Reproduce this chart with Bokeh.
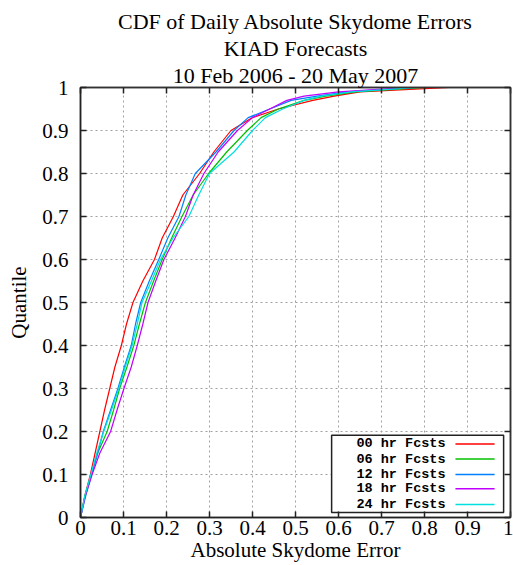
from bokeh.plotting import figure
from bokeh.models import FixedTicker, LinearAxis, Range1d, Title
from bokeh.core.properties import value
from bokeh.embed import file_html
from bokeh.resources import INLINE

quantiles = [0, 0.05, 0.1, 0.15, 0.2, 0.25, 0.3, 0.35, 0.4, 0.45, 0.5, 0.55, 0.6,
             0.65, 0.7, 0.75, 0.8, 0.85, 0.9, 0.93, 0.95, 0.97, 0.98, 0.99, 1.0]

err_00 = [0, 0.010, 0.023, 0.034, 0.045, 0.056, 0.068, 0.080, 0.095, 0.107, 0.122, 0.145, 0.172,
          0.190, 0.216, 0.238, 0.277, 0.310, 0.350, 0.400, 0.460, 0.540, 0.590, 0.650, 0.858]
err_06 = [0, 0.010, 0.025, 0.040, 0.062, 0.077, 0.091, 0.108, 0.124, 0.137, 0.151, 0.170, 0.190,
          0.212, 0.236, 0.262, 0.298, 0.340, 0.388, 0.420, 0.460, 0.520, 0.570, 0.640, 0.800]
err_12 = [0, 0.012, 0.026, 0.040, 0.053, 0.070, 0.087, 0.102, 0.118, 0.128, 0.140, 0.160, 0.182,
          0.203, 0.229, 0.245, 0.267, 0.315, 0.357, 0.390, 0.440, 0.490, 0.550, 0.620, 0.780]
err_18 = [0, 0.011, 0.027, 0.045, 0.070, 0.085, 0.101, 0.118, 0.132, 0.145, 0.157, 0.175, 0.194,
          0.220, 0.244, 0.262, 0.287, 0.320, 0.365, 0.400, 0.440, 0.480, 0.520, 0.600, 0.760]
err_24 = [0, 0.010, 0.024, 0.038, 0.054, 0.072, 0.089, 0.104, 0.120, 0.132, 0.143, 0.165, 0.186,
          0.215, 0.252, 0.275, 0.300, 0.357, 0.400, 0.430, 0.470, 0.520, 0.560, 0.630, 0.780]

series_labels = ["00 hr Fcsts", "06 hr Fcsts", "12 hr Fcsts", "18 hr Fcsts", "24 hr Fcsts"]
series_values = [err_00, err_06, err_12, err_18, err_24]
series_colors = ["#ff0000", "#00c000", "#0080ff", "#c000ff", "#00e0e0"]

tick_values = [0, 0.1, 0.2, 0.3, 0.4, 0.5, 0.6, 0.7, 0.8, 0.9, 1]
tick_overrides = {0: "0", 1: "1"}

title_lines = ["CDF of Daily Absolute Skydome Errors", "KIAD Forecasts", "10 Feb 2006 - 20 May 2007"]

SERIF = "Liberation Serif"
MONO = "Liberation Mono"

p = figure(width=513, height=565, output_backend="svg", toolbar_location=None,
           x_range=Range1d(0, 1), y_range=Range1d(0, 1),
           min_border_left=80, min_border_right=3, min_border_top=87, min_border_bottom=48,
           x_axis_label="Absolute Skydome Error", y_axis_label="Quantile")

p.background_fill_color = "white"
p.border_fill_color = "white"
p.outline_line_color = "#333333"
p.outline_line_width = 1.5

for ax in (p.xaxis[0], p.yaxis[0]):
    ax.ticker = FixedTicker(ticks=tick_values)
    ax.major_label_overrides = tick_overrides
    ax.major_label_text_font = SERIF
    ax.major_label_text_font_size = "21px"
    ax.major_label_text_color = "black"
    ax.axis_label_text_font = SERIF
    ax.axis_label_text_font_size = "21px"
    ax.axis_label_text_font_style = "normal"
    ax.axis_label_text_color = "black"
    ax.major_tick_in = 6
    ax.major_tick_out = 0
    ax.minor_tick_line_color = None
    ax.axis_line_color = "#222222"
    ax.axis_line_width = 1.5
    ax.major_tick_line_color = "#222222"
    ax.major_tick_line_width = 1.5
p.xaxis[0].major_label_standoff = 3
p.xaxis[0].axis_label_standoff = 0
p.yaxis[0].major_label_standoff = 12
p.yaxis[0].axis_label_standoff = 8

# mirrored tick marks on the right and top (no labels); added before titles so they sit next to the frame
for loc in ("right", "above"):
    ax = LinearAxis(ticker=FixedTicker(ticks=tick_values))
    ax.major_label_text_font_size = "0px"
    ax.major_label_text_color = None
    ax.major_tick_in = 6
    ax.major_tick_out = 0
    ax.minor_tick_line_color = None
    ax.axis_line_color = "#333333"
    ax.axis_line_width = 1.5
    ax.major_tick_line_color = "#222222"
    ax.major_tick_line_width = 1.5
    ax.major_label_standoff = 0
    p.add_layout(ax, loc)

# title lines: first in the "above" list sits closest to the frame, p.title goes outermost
for line in (title_lines[2], title_lines[1]):
    p.add_layout(Title(text=line, align="center", text_font=SERIF, text_font_size="22px",
                       text_font_style="normal", text_color="black", standoff=0), "above")
p.title.text = title_lines[0]
p.title.align = "center"
p.title.text_font = SERIF
p.title.text_font_size = "22px"
p.title.text_font_style = "normal"
p.title.text_color = "black"
p.title.standoff = 0

p.xgrid.ticker = FixedTicker(ticks=tick_values)
p.ygrid.ticker = FixedTicker(ticks=tick_values)
for g in (p.xgrid[0], p.ygrid[0]):
    g.grid_line_color = "#a0a0a0"
    g.grid_line_dash = "2 3"
    g.grid_line_width = 1

for vals, col in zip(series_values, series_colors):
    p.line(vals, quantiles, line_color=col, line_width=1.2)

# gnuplot-style legend: label right-aligned, sample line to the right
leg_y = [0.171, 0.136, 0.100, 0.067, 0.030]
p.quad(left=[0.584], right=[0.984], bottom=[0.0116], top=[0.191],
       fill_color="white", line_color="#222222", line_width=1.5)
p.text(x=[0.849] * 5, y=leg_y, text=series_labels, text_align="right", text_baseline="middle",
       text_font=value(MONO), text_font_size="13.5px", text_font_style="bold", text_color="black")
p.segment(x0=[0.872] * 5, x1=[0.963] * 5, y0=leg_y, y1=leg_y, line_color=series_colors,
          line_width=1.5)

open("out.html", "w").write(file_html(p, INLINE))
